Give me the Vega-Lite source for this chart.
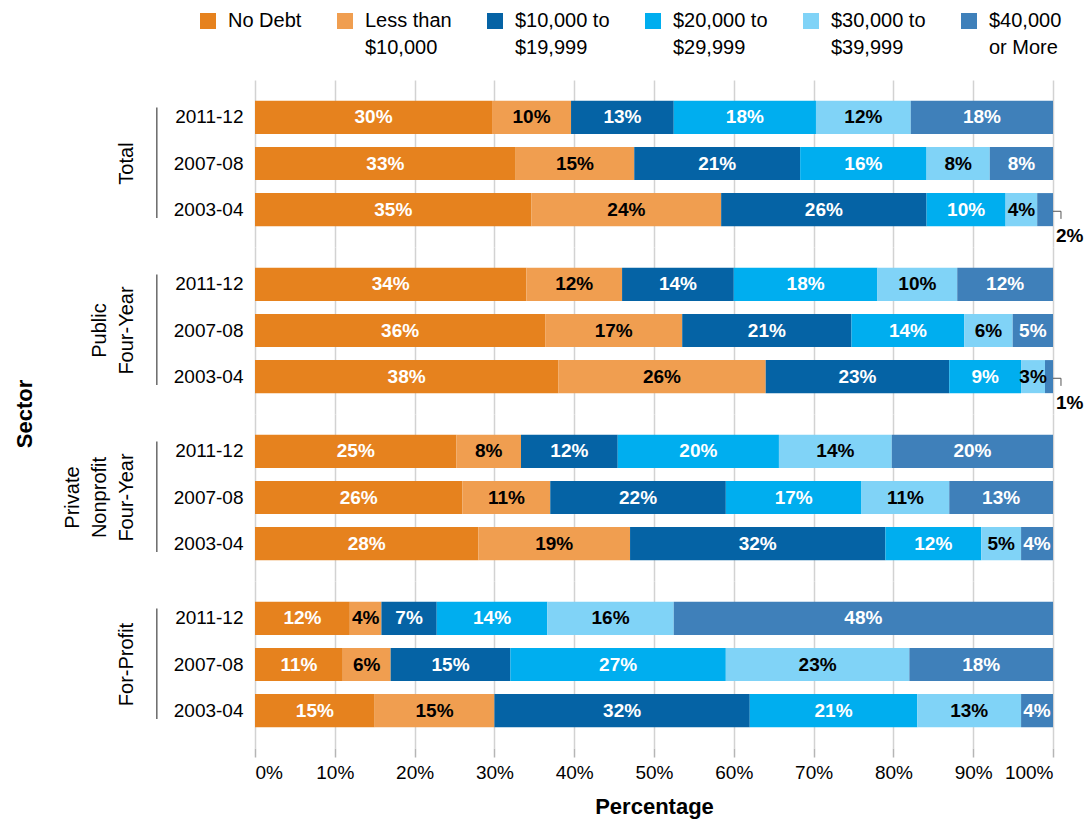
{
  "$schema": "https://vega.github.io/schema/vega-lite/v6.json",
  "padding": {"left": 14, "top": 11, "right": 2, "bottom": 4},
  "background": "white",
  "config": {
    "font": "Liberation Sans",
    "view": {"stroke": null},
    "legend": {"padding": 0},
    "style": {"guide-label": {"lineHeight": 27}}
  },
  "datasets": {
    "debt": [
      {"sector": "Total", "year": "2011-12", "level": 1, "debt": "No Debt", "share": 0.30},
      {"sector": "Total", "year": "2011-12", "level": 2, "debt": "Less than|$10,000", "share": 0.10},
      {"sector": "Total", "year": "2011-12", "level": 3, "debt": "$10,000 to|$19,999", "share": 0.13},
      {"sector": "Total", "year": "2011-12", "level": 4, "debt": "$20,000 to|$29,999", "share": 0.18},
      {"sector": "Total", "year": "2011-12", "level": 5, "debt": "$30,000 to|$39,999", "share": 0.12},
      {"sector": "Total", "year": "2011-12", "level": 6, "debt": "$40,000|or More", "share": 0.18},
      {"sector": "Total", "year": "2007-08", "level": 1, "debt": "No Debt", "share": 0.33},
      {"sector": "Total", "year": "2007-08", "level": 2, "debt": "Less than|$10,000", "share": 0.15},
      {"sector": "Total", "year": "2007-08", "level": 3, "debt": "$10,000 to|$19,999", "share": 0.21},
      {"sector": "Total", "year": "2007-08", "level": 4, "debt": "$20,000 to|$29,999", "share": 0.16},
      {"sector": "Total", "year": "2007-08", "level": 5, "debt": "$30,000 to|$39,999", "share": 0.08},
      {"sector": "Total", "year": "2007-08", "level": 6, "debt": "$40,000|or More", "share": 0.08},
      {"sector": "Total", "year": "2003-04", "level": 1, "debt": "No Debt", "share": 0.35},
      {"sector": "Total", "year": "2003-04", "level": 2, "debt": "Less than|$10,000", "share": 0.24},
      {"sector": "Total", "year": "2003-04", "level": 3, "debt": "$10,000 to|$19,999", "share": 0.26},
      {"sector": "Total", "year": "2003-04", "level": 4, "debt": "$20,000 to|$29,999", "share": 0.10},
      {"sector": "Total", "year": "2003-04", "level": 5, "debt": "$30,000 to|$39,999", "share": 0.04},
      {"sector": "Total", "year": "2003-04", "level": 6, "debt": "$40,000|or More", "share": 0.02},
      {"sector": "Public|Four-Year", "year": "2011-12", "level": 1, "debt": "No Debt", "share": 0.34},
      {"sector": "Public|Four-Year", "year": "2011-12", "level": 2, "debt": "Less than|$10,000", "share": 0.12},
      {"sector": "Public|Four-Year", "year": "2011-12", "level": 3, "debt": "$10,000 to|$19,999", "share": 0.14},
      {"sector": "Public|Four-Year", "year": "2011-12", "level": 4, "debt": "$20,000 to|$29,999", "share": 0.18},
      {"sector": "Public|Four-Year", "year": "2011-12", "level": 5, "debt": "$30,000 to|$39,999", "share": 0.10},
      {"sector": "Public|Four-Year", "year": "2011-12", "level": 6, "debt": "$40,000|or More", "share": 0.12},
      {"sector": "Public|Four-Year", "year": "2007-08", "level": 1, "debt": "No Debt", "share": 0.36},
      {"sector": "Public|Four-Year", "year": "2007-08", "level": 2, "debt": "Less than|$10,000", "share": 0.17},
      {"sector": "Public|Four-Year", "year": "2007-08", "level": 3, "debt": "$10,000 to|$19,999", "share": 0.21},
      {"sector": "Public|Four-Year", "year": "2007-08", "level": 4, "debt": "$20,000 to|$29,999", "share": 0.14},
      {"sector": "Public|Four-Year", "year": "2007-08", "level": 5, "debt": "$30,000 to|$39,999", "share": 0.06},
      {"sector": "Public|Four-Year", "year": "2007-08", "level": 6, "debt": "$40,000|or More", "share": 0.05},
      {"sector": "Public|Four-Year", "year": "2003-04", "level": 1, "debt": "No Debt", "share": 0.38},
      {"sector": "Public|Four-Year", "year": "2003-04", "level": 2, "debt": "Less than|$10,000", "share": 0.26},
      {"sector": "Public|Four-Year", "year": "2003-04", "level": 3, "debt": "$10,000 to|$19,999", "share": 0.23},
      {"sector": "Public|Four-Year", "year": "2003-04", "level": 4, "debt": "$20,000 to|$29,999", "share": 0.09},
      {"sector": "Public|Four-Year", "year": "2003-04", "level": 5, "debt": "$30,000 to|$39,999", "share": 0.03},
      {"sector": "Public|Four-Year", "year": "2003-04", "level": 6, "debt": "$40,000|or More", "share": 0.01},
      {"sector": "Private|Nonprofit|Four-Year", "year": "2011-12", "level": 1, "debt": "No Debt", "share": 0.25},
      {"sector": "Private|Nonprofit|Four-Year", "year": "2011-12", "level": 2, "debt": "Less than|$10,000", "share": 0.08},
      {"sector": "Private|Nonprofit|Four-Year", "year": "2011-12", "level": 3, "debt": "$10,000 to|$19,999", "share": 0.12},
      {"sector": "Private|Nonprofit|Four-Year", "year": "2011-12", "level": 4, "debt": "$20,000 to|$29,999", "share": 0.20},
      {"sector": "Private|Nonprofit|Four-Year", "year": "2011-12", "level": 5, "debt": "$30,000 to|$39,999", "share": 0.14},
      {"sector": "Private|Nonprofit|Four-Year", "year": "2011-12", "level": 6, "debt": "$40,000|or More", "share": 0.20},
      {"sector": "Private|Nonprofit|Four-Year", "year": "2007-08", "level": 1, "debt": "No Debt", "share": 0.26},
      {"sector": "Private|Nonprofit|Four-Year", "year": "2007-08", "level": 2, "debt": "Less than|$10,000", "share": 0.11},
      {"sector": "Private|Nonprofit|Four-Year", "year": "2007-08", "level": 3, "debt": "$10,000 to|$19,999", "share": 0.22},
      {"sector": "Private|Nonprofit|Four-Year", "year": "2007-08", "level": 4, "debt": "$20,000 to|$29,999", "share": 0.17},
      {"sector": "Private|Nonprofit|Four-Year", "year": "2007-08", "level": 5, "debt": "$30,000 to|$39,999", "share": 0.11},
      {"sector": "Private|Nonprofit|Four-Year", "year": "2007-08", "level": 6, "debt": "$40,000|or More", "share": 0.13},
      {"sector": "Private|Nonprofit|Four-Year", "year": "2003-04", "level": 1, "debt": "No Debt", "share": 0.28},
      {"sector": "Private|Nonprofit|Four-Year", "year": "2003-04", "level": 2, "debt": "Less than|$10,000", "share": 0.19},
      {"sector": "Private|Nonprofit|Four-Year", "year": "2003-04", "level": 3, "debt": "$10,000 to|$19,999", "share": 0.32},
      {"sector": "Private|Nonprofit|Four-Year", "year": "2003-04", "level": 4, "debt": "$20,000 to|$29,999", "share": 0.12},
      {"sector": "Private|Nonprofit|Four-Year", "year": "2003-04", "level": 5, "debt": "$30,000 to|$39,999", "share": 0.05},
      {"sector": "Private|Nonprofit|Four-Year", "year": "2003-04", "level": 6, "debt": "$40,000|or More", "share": 0.04},
      {"sector": "For-Profit", "year": "2011-12", "level": 1, "debt": "No Debt", "share": 0.12},
      {"sector": "For-Profit", "year": "2011-12", "level": 2, "debt": "Less than|$10,000", "share": 0.04},
      {"sector": "For-Profit", "year": "2011-12", "level": 3, "debt": "$10,000 to|$19,999", "share": 0.07},
      {"sector": "For-Profit", "year": "2011-12", "level": 4, "debt": "$20,000 to|$29,999", "share": 0.14},
      {"sector": "For-Profit", "year": "2011-12", "level": 5, "debt": "$30,000 to|$39,999", "share": 0.16},
      {"sector": "For-Profit", "year": "2011-12", "level": 6, "debt": "$40,000|or More", "share": 0.48},
      {"sector": "For-Profit", "year": "2007-08", "level": 1, "debt": "No Debt", "share": 0.11},
      {"sector": "For-Profit", "year": "2007-08", "level": 2, "debt": "Less than|$10,000", "share": 0.06},
      {"sector": "For-Profit", "year": "2007-08", "level": 3, "debt": "$10,000 to|$19,999", "share": 0.15},
      {"sector": "For-Profit", "year": "2007-08", "level": 4, "debt": "$20,000 to|$29,999", "share": 0.27},
      {"sector": "For-Profit", "year": "2007-08", "level": 5, "debt": "$30,000 to|$39,999", "share": 0.23},
      {"sector": "For-Profit", "year": "2007-08", "level": 6, "debt": "$40,000|or More", "share": 0.18},
      {"sector": "For-Profit", "year": "2003-04", "level": 1, "debt": "No Debt", "share": 0.15},
      {"sector": "For-Profit", "year": "2003-04", "level": 2, "debt": "Less than|$10,000", "share": 0.15},
      {"sector": "For-Profit", "year": "2003-04", "level": 3, "debt": "$10,000 to|$19,999", "share": 0.32},
      {"sector": "For-Profit", "year": "2003-04", "level": 4, "debt": "$20,000 to|$29,999", "share": 0.21},
      {"sector": "For-Profit", "year": "2003-04", "level": 5, "debt": "$30,000 to|$39,999", "share": 0.13},
      {"sector": "For-Profit", "year": "2003-04", "level": 6, "debt": "$40,000|or More", "share": 0.04}
    ]
  },
  "data": {"name": "debt"},
  "facet": {
    "row": {
      "field": "sector",
      "type": "nominal",
      "sort": ["Total", "Public|Four-Year", "Private|Nonprofit|Four-Year", "For-Profit"],
      "title": "Sector",
      "header": {
        "labelAngle": -90,
        "labelOrient": "left",
        "labelExpr": "split(datum.value, '|')",
        "labelFont": "Liberation Sans",
        "labelFontSize": 20,
        "labelColor": "black",
        "labelPadding": 9,
        "labelLineHeight": 27,
        "title": "Sector",
        "titleOrient": "left",
        "titleFont": "Liberation Sans",
        "titleFontSize": 22,
        "titleFontWeight": "bold",
        "titleColor": "black",
        "titlePadding": 16
      }
    }
  },
  "spacing": {"row": 0},
  "spec": {
    "width": 798,
    "height": 167,
    "layer": [
      {
        "mark": {"type": "bar"},
        "encoding": {
          "x": {
            "field": "share",
            "type": "quantitative",
            "stack": "normalize",
            "scale": {"domain": [0, 1]},
            "axis": {
              "format": ".0%",
              "values": [0, 0.1, 0.2, 0.3, 0.4, 0.5, 0.6, 0.7, 0.8, 0.9, 1],
              "title": "Percentage",
              "grid": true,
              "gridColor": "#d2d2d2",
              "gridWidth": 1.5,
              "domain": false,
              "ticks": true,
              "tickColor": "#b5b5b5",
              "tickSize": 9,
              "tickWidth": 1.5,
              "labelFont": "Liberation Sans",
              "labelFontSize": 19,
              "labelColor": "black",
              "labelPadding": 6,
              "titleFont": "Liberation Sans",
              "titleFontSize": 22,
              "titleFontWeight": "bold",
              "titleColor": "black",
              "titlePadding": 14
            }
          },
          "y": {
            "field": "year",
            "type": "nominal",
            "sort": ["2011-12", "2007-08", "2003-04"],
            "scale": {"paddingInner": 0.283, "paddingOuter": 0.452},
            "axis": {
              "title": null,
              "domain": false,
              "ticks": false,
              "tickSize": 0,
              "labelPadding": -87,
              "labelFont": "Liberation Sans",
              "labelFontSize": 19,
              "labelColor": "black"
            }
          },
          "order": {"field": "level", "type": "quantitative", "sort": "ascending"},
          "color": {
            "field": "debt",
            "type": "nominal",
            "sort": ["No Debt", "Less than|$10,000", "$10,000 to|$19,999", "$20,000 to|$29,999", "$30,000 to|$39,999", "$40,000|or More"],
            "scale": {
              "domain": ["No Debt", "Less than|$10,000", "$10,000 to|$19,999", "$20,000 to|$29,999", "$30,000 to|$39,999", "$40,000|or More"],
              "range": ["#E6821E", "#F09E50", "#0563A5", "#00AEEF", "#80D3F7", "#3F80BA"]
            },
            "legend": {
              "orient": "none",
              "legendX": -57,
              "legendY": -69,
              "direction": "horizontal",
              "columns": 6,
              "title": null,
              "symbolType": "square",
              "symbolSize": 256,
              "symbolStrokeWidth": 0,
              "labelFont": "Liberation Sans",
              "labelFontSize": 20,
              "labelColor": "black",
              "labelExpr": "indexof(datum.label, '|') < 0 ? [datum.label, ''] : split(datum.label, '|')",
              "labelLimit": 300,
              "labelOffset": 10,
              "columnPadding": 33
            }
          }
        }
      },
      {
        "mark": {"type": "text", "font": "Liberation Sans", "fontWeight": "bold", "fontSize": 19, "baseline": "middle", "align": "center"},
        "encoding": {
          "x": {"field": "share", "type": "quantitative", "stack": "normalize", "bandPosition": 0.5},
          "y": {"field": "year", "type": "nominal", "sort": ["2011-12", "2007-08", "2003-04"]},
          "order": {"field": "level", "type": "quantitative", "sort": "ascending"},
          "fill": {
            "field": "debt",
            "type": "nominal",
            "scale": {
              "domain": ["No Debt", "Less than|$10,000", "$10,000 to|$19,999", "$20,000 to|$29,999", "$30,000 to|$39,999", "$40,000|or More"],
              "range": ["white", "black", "white", "white", "black", "white"]
            },
            "legend": null
          },
          "text": {
            "condition": {"test": "datum.share < 0.025", "value": ""},
            "field": "share",
            "type": "quantitative",
            "format": ".0%"
          }
        }
      },
      {
        "transform": [{"filter": "datum.share < 0.025"}],
        "mark": {"type": "text", "font": "Liberation Sans", "fontWeight": "bold", "fontSize": 19, "baseline": "middle", "align": "left", "dx": 3, "dy": 26, "color": "black"},
        "encoding": {
          "x": {"datum": 1, "type": "quantitative"},
          "y": {"field": "year", "type": "nominal", "sort": ["2011-12", "2007-08", "2003-04"]},
          "text": {"field": "share", "type": "quantitative", "format": ".0%"}
        }
      },
      {
        "transform": [{"filter": "datum.share < 0.025"}],
        "mark": {"type": "rule", "color": "#555", "strokeWidth": 1},
        "encoding": {
          "x": {"datum": 1, "type": "quantitative"},
          "x2": {"datum": 1.01},
          "y": {"field": "year", "type": "nominal", "sort": ["2011-12", "2007-08", "2003-04"], "bandPosition": 0.55}
        }
      },
      {
        "transform": [{"filter": "datum.share < 0.025"}],
        "mark": {"type": "rule", "color": "#555", "strokeWidth": 1},
        "encoding": {
          "x": {"datum": 1.01, "type": "quantitative"},
          "y": {"field": "year", "type": "nominal", "sort": ["2011-12", "2007-08", "2003-04"], "bandPosition": 0.55},
          "y2": {"field": "year", "bandPosition": 0.78}
        }
      },
      {
        "transform": [{"filter": "datum.year == '2011-12' && datum.debt == 'No Debt'"}],
        "mark": {"type": "rule", "color": "#444", "strokeWidth": 1.2},
        "encoding": {
          "x": {"datum": -0.123, "type": "quantitative"},
          "y": {"field": "year", "type": "nominal", "sort": ["2011-12", "2007-08", "2003-04"], "bandPosition": 0.2},
          "y2": {"datum": "2003-04", "bandPosition": 0.75}
        }
      }
    ]
  }
}
